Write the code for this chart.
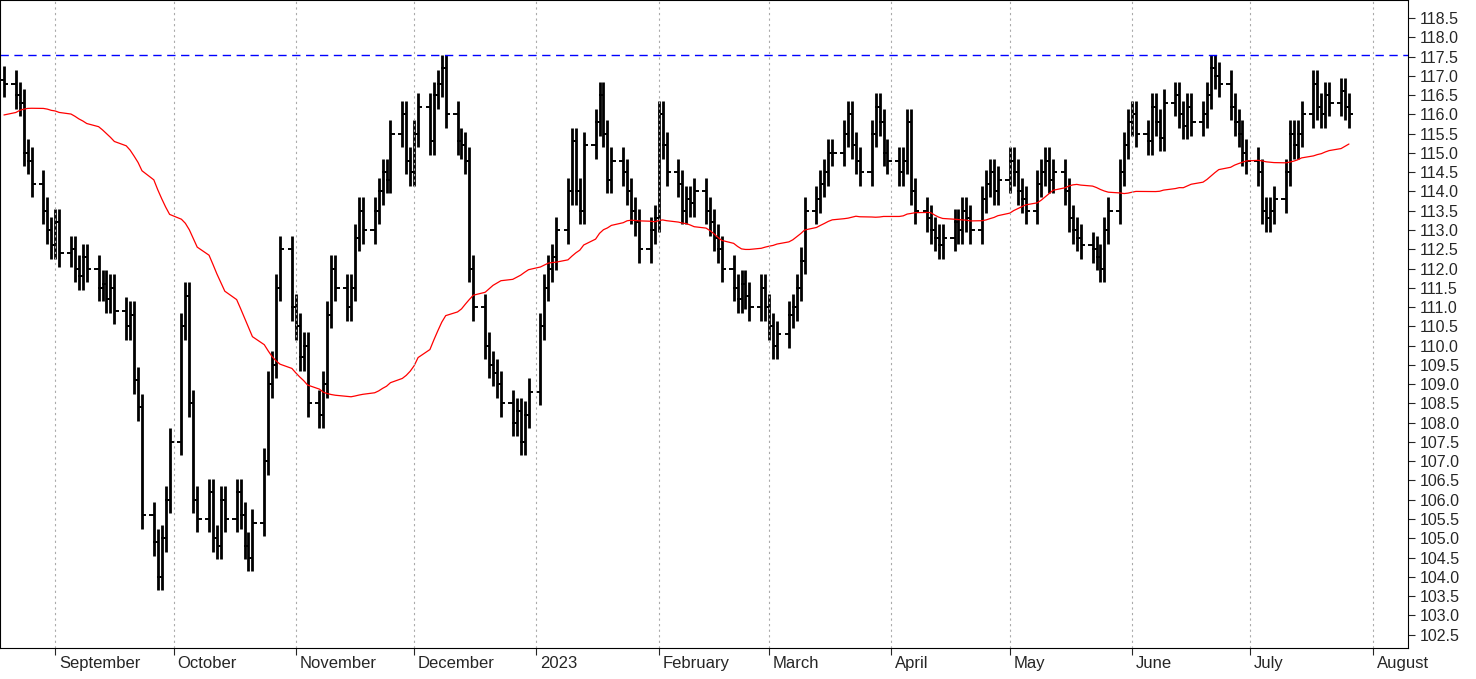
import numpy as np, pandas as pd, matplotlib
matplotlib.use("Agg")
import matplotlib.pyplot as plt, matplotlib.dates as mdates, seaborn as sns

# closes before the visible window (only used for the moving average)
prior = [113.0,113.3,113.6,113.4,113.8,114.0,113.7,113.9,114.2,114.0,
         114.3,114.6,114.9,115.2,115.0,115.3,115.6,115.8,116.0,116.3,
         116.3,116.1,116.5,116.8,116.6,116.4,116.7,116.9,116.6,116.8,
         117.0,116.8,116.6,116.9,117.1,116.9,116.7,117.0,117.2,117.0,
         116.8,117.1,117.3,117.0,116.9,117.2,117.4,117.1,117.0,116.9]
aug = [116.8,116.5,116.3,115.0,114.8,114.2,113.5,113.0,112.6]
sep = [113.2,112.4,112.5,112.0,111.8,112.3,112.0,111.5,111.6,111.2,111.5,110.9,110.5,110.8,109.1,108.4,105.6,104.9,104.0,105.0,106.0,107.5]
oct_ = [110.5,111.3,108.5,106.0,105.5,106.2,105.0,104.8,106.0,105.5,106.2,105.6,104.8,104.5,105.4,107.0,109.0,109.5,111.5,112.5,111.0]
nov = [110.5,109.7,110.0,108.5,108.2,109.0,110.8,112.0,111.5,111.0,111.5,112.8,113.5,113.0,113.5,114.0,114.5,114.3,115.5,116.0,114.8,114.5]
dec = [115.5,116.2,115.3,116.5,116.8,117.2,116.0,115.3,115.2,114.8,112.0,111.0,110.0,109.5,109.3,109.0,108.5,108.0,108.3,107.5,108.2,108.8]
jan = [110.5,111.5,112.0,112.3,113.0,114.0,115.3,114.0,113.5,115.2,115.8,116.5,115.5,114.3,114.8,114.5,114.0,113.5,113.2,112.5,113.0,113.3]
feb = [116.0,115.2,114.5,114.2,113.5,113.8,113.7,114.0,113.5,113.2,112.8,112.5,112.0,111.5,111.2,111.6,111.3,111.0,111.5,111.0]
mar = [110.5,110.0,110.3,110.8,111.0,111.5,112.2,113.5,113.8,114.2,114.5,115.0,115.0,115.5,116.0,115.2,114.8,114.5,115.5,116.2,115.8,115.0,114.8]
apr = [114.5,114.8,115.8,114.0,113.5,113.3,113.0,112.8,112.6,112.8,113.2,113.0,113.5,113.3,113.0,113.8,114.2,114.5,114.0,114.3]
may = [114.8,114.5,114.0,113.8,113.5,114.2,114.5,114.8,114.3,114.5,114.0,113.3,113.0,112.8,112.6,112.5,112.3,112.0,113.0,113.5,114.5,115.2,115.8]
jun = [116.0,115.5,115.3,116.2,115.8,115.4,116.3,116.5,116.0,115.7,116.2,115.8,116.0,116.5,117.2,117.0,116.8,116.2,115.8,115.5,115.0,114.8]
jul = [114.5,113.5,113.3,113.5,113.8,114.5,115.5,115.2,115.5,116.0,116.8,116.2,116.0,116.5,116.3,116.6,116.2,116.0]
resistance = 117.55
ma_window = 50

close = np.array(aug+sep+oct_+nov+dec+jan+feb+mar+apr+may+jun+jul)
allc = pd.Series(prior + list(close))
ma = allc.rolling(ma_window).mean().values[len(prior):]
dates = pd.bdate_range("2022-08-19", periods=len(close))
opn = np.concatenate([[prior[-1]], close[:-1]])
high = np.maximum(opn, close) + 0.35
low = np.minimum(opn, close) - 0.35
x = mdates.date2num(dates)

sns.set_style("white")
plt.rcParams['font.family'] = ['Liberation Sans', 'DejaVu Sans']
fig = plt.figure(figsize=(14.76, 6.79), dpi=100)
ax = fig.add_axes([0, 0.045, 0.954, 0.955])
ax.vlines(x, low, high, color="black", lw=2.0)
ax.hlines(opn, x - 1.1, x, color="black", lw=1.4)
ax.hlines(close, x, x + 1.1, color="black", lw=1.4)
sns.lineplot(x=x, y=ma, color="red", lw=0.9, ax=ax)
ax.axhline(resistance, color="blue", ls=(0, (6, 4)), lw=1)

months = pd.date_range("2022-09-01", "2023-08-01", freq="MS")
labels = ["September","October","November","December","2023","February","March","April","May","June","July","August"]
mx = mdates.date2num(months)
for m in mx:
    ax.axvline(m, color="#aaaaaa", ls=(0, (2, 3)), lw=0.8)
ax.set_xticks(mx)
ax.set_xticklabels([])
for m, l in zip(mx, labels):
    ax.text(m + 1, -0.012, l, transform=ax.get_xaxis_transform(), ha="left", va="top", fontsize=12, clip_on=False)
ax.set_xlim(mdates.date2num(pd.Timestamp("2022-08-18")), mdates.date2num(pd.Timestamp("2023-08-10")))
ax.set_ylim(102.14, 118.97)
ax.yaxis.tick_right()
ax.set_yticks(np.arange(102.5, 118.51, 0.5))
ax.set_yticklabels([f"{v:.1f}" for v in np.arange(102.5, 118.51, 0.5)], fontsize=11.5)
ax.tick_params(axis="y", direction="out", length=5, right=True)
ax.tick_params(axis="x", direction="out", length=5, bottom=True)
for s in ax.spines.values():
    s.set_color("black"); s.set_linewidth(0.8)
fig.savefig("out.png", dpi=100)
